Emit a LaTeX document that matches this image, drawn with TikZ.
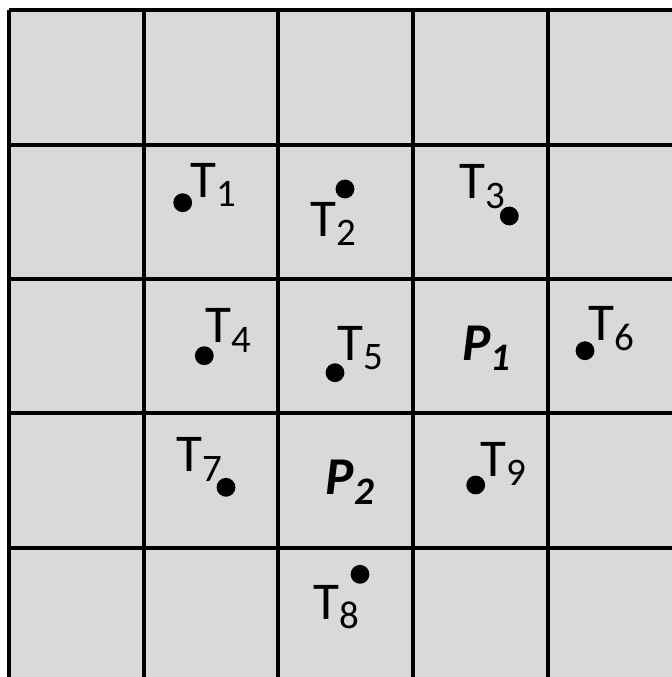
\documentclass[tikz,border=0pt]{standalone}
\usepackage{fontspec}
\setmainfont{Carlito}
\newcommand{\tsub}[1]{\raisebox{-4.2pt}{\fontsize{16.5}{18}\selectfont #1}}
\definecolor{cellgray}{HTML}{D9D9D9}
\tikzset{
    gridline/.style={line width=1.3pt, black},
    dot/.style={circle, fill=black, inner sep=0pt, minimum size=0.28cm},
    lbl/.style={anchor=base west, inner sep=0pt, font=\fontsize{22.5}{26}\selectfont},
    plbl/.style={anchor=base west, inner sep=0pt, font=\fontsize{22.5}{26}\selectfont\bfseries\itshape},
}
\begin{document}
\begin{tikzpicture}[x=0.01487cm, y=-0.01487cm]
    \useasboundingbox (0,0) rectangle (672,677);
    \fill[cellgray] (9,10) rectangle (672,677);

    % grid
    \foreach \x in {9,144,278,413,548}
        \draw[gridline] (\x,10) -- (\x,677);
    \foreach \y in {10,145,279,413,548}
        \draw[gridline] (9,\y) -- (672,\y);

    % points
    \node[dot] (d1) at (182.7,202.7) {};
    \node[dot] (d2) at (345,189) {};
    \node[dot] (d3) at (509.3,216) {};
    \node[dot] (d4) at (204.3,355.7) {};
    \node[dot] (d5) at (335,372.7) {};
    \node[dot] (d6) at (585,350.7) {};
    \node[dot] (d7) at (226,487.3) {};
    \node[dot] (d8) at (360,574.3) {};
    \node[dot] (d9) at (475.7,485) {};

    % labels
    \node[lbl] (t1) at (190,197) {T\tsub{1}};
    \node[lbl] (t2) at (310.5,236) {T\tsub{2}};
    \node[lbl] (t3) at (459,198.3) {T\tsub{3}};
    \node[lbl] (t4) at (205.5,342.3) {T\tsub{4}};
    \node[lbl] (t5) at (337,360) {T\tsub{5}};
    \node[lbl] (t6) at (588,340.7) {T\tsub{6}};
    \node[lbl] (t7) at (176.5,471.7) {T\tsub{7}};
    \node[lbl] (t8) at (313,619) {T\tsub{8}};
    \node[lbl] (t9) at (480.5,476) {T\tsub{9}};

    \node[plbl] (p1) at (462,360.7) {P\tsub{1}};
    \node[plbl] (p2) at (325.5,494.3) {P\tsub{2}};
\end{tikzpicture}
\end{document}
